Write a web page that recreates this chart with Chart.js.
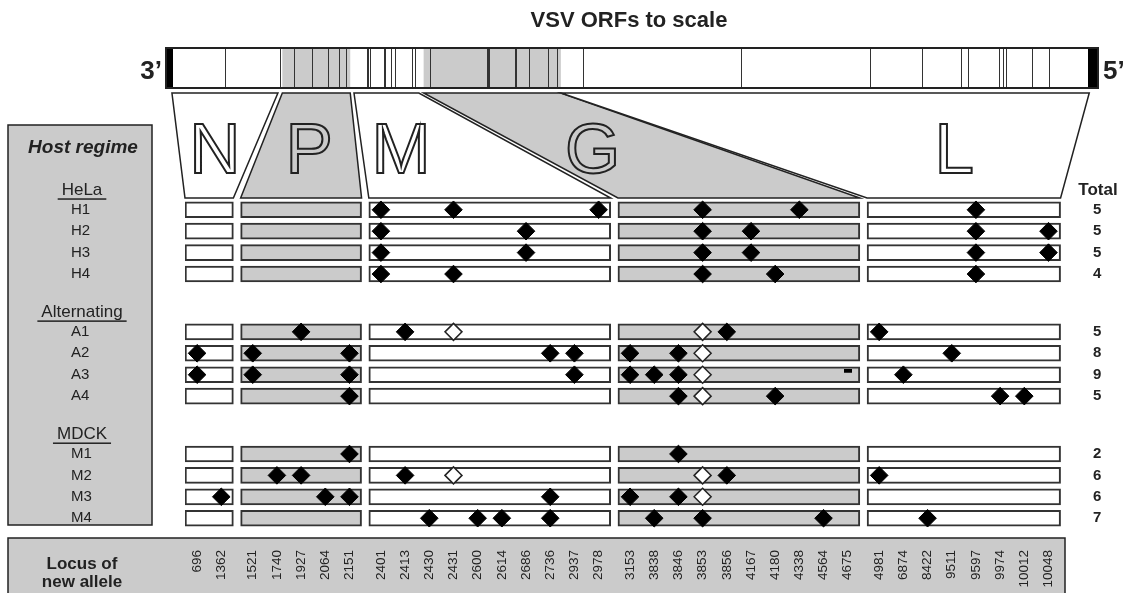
<!DOCTYPE html>
<html>
<head>
<meta charset="utf-8">
<script src="https://cdn.jsdelivr.net/npm/chart.js@4.4.1/dist/chart.umd.min.js"></script>
<style>
  html, body { margin: 0; padding: 0; background: #fff; }
  #wrap { width: 1124px; height: 593px; }
</style>
</head>
<body>
<div id="wrap"><canvas id="chart" width="1124" height="593"></canvas></div>
<script>
// loci of new alleles (genome position), in gene order
const loci = [696, 1362, 1521, 1740, 1927, 2064, 2151, 2401, 2413, 2430, 2431, 2600, 2614, 2686, 2736, 2937, 2978,
  3153, 3838, 3846, 3853, 3856, 4167, 4180, 4338, 4564, 4675, 4981, 6874, 8422, 9511, 9597, 9974, 10012, 10048];
const genes = ['N', 'P', 'M', 'G', 'L'];
const geneLociCount = [2, 5, 10, 10, 8];
const geneStart = [64, 1386, 2244, 3078, 4723];
const geneEnd = [1333, 2199, 3021, 4721, 11049];
const genomeLength = 11161;
const otherSites = [9052, 10362, 10564];

const groups = ['HeLa', 'Alternating', 'MDCK'];
const lines = ['H1', 'H2', 'H3', 'H4', 'A1', 'A2', 'A3', 'A4', 'M1', 'M2', 'M3', 'M4'];
const totals = [5, 5, 5, 4, 5, 8, 9, 5, 2, 6, 6, 7];

const filledSites = [
  [2401, 2431, 2978, 3853, 4338, 9597],
  [2401, 2686, 3853, 4167, 9597, 10048],
  [2401, 2686, 3853, 4167, 9597, 10048],
  [2401, 2431, 3853, 4180, 9597],
  [1927, 2413, 3856, 4981],
  [696, 1521, 2151, 2736, 2937, 3153, 3846, 9511],
  [696, 1521, 2151, 2937, 3153, 3838, 3846, 6874],
  [2151, 3846, 4180, 9974, 10012],
  [2151, 3846],
  [1740, 1927, 2413, 3856, 4981],
  [1362, 2064, 2151, 2736, 3153, 3846],
  [2430, 2600, 2614, 2736, 3838, 3853, 4564, 8422]
];
const openSites = [[], [], [], [], [2431, 3853], [3853], [3853], [3853], [], [2431, 3853], [3853], []];
const deletionSites = [[], [], [], [], [], [], [4675], [], [], [], [], []];

const GRAY = '#cbcbcb';
const INK = '#222';
const FONT = "'Liberation Sans', Arial, Helvetica, sans-serif";
const GENE_GAP = 0.3;
const GROUP_GAP = 1.7;

const geneOfLocus = geneLociCount.flatMap((n, gi) => Array(n).fill(gi));
const locusX = loci.map((l, i) => i + geneOfLocus[i] * GENE_GAP);
const xOf = s => locusX[loci.indexOf(s)];
const rowY = lines.map((l, r) => r + Math.floor(r / 4) * GROUP_GAP);
const geneCols = gi => locusX.filter((v, i) => geneOfLocus[i] === gi);
const boxStart = genes.map((g, gi) => Math.min(...geneCols(gi)) - 0.5);
const boxEnd = genes.map((g, gi) => Math.max(...geneCols(gi)) + 0.5);
const points = sites => sites.flatMap((list, r) => list.map(s => ({x: xOf(s), y: rowY[r]})));

// small deletion mark, sits a little above the row centre
const dash = document.createElement('canvas');
dash.width = 8; dash.height = 12;
dash.getContext('2d').fillRect(0, 0, 8, 4);

const letterAt = [0.74, 4.63, 8.43, 16.35, 31.3];

const decor = {
  id: 'decor',
  beforeDraw(chart) {
    const {ctx, chartArea: area, scales: {x, y}} = chart;
    ctx.save();
    ctx.fillStyle = '#fff';
    ctx.fillRect(0, 0, chart.width, chart.height);

    // panels
    ctx.fillStyle = GRAY; ctx.strokeStyle = INK; ctx.lineWidth = 1.5;
    ctx.fillRect(8, 125, 144, 400); ctx.strokeRect(8, 125, 144, 400);
    ctx.fillRect(8, 538, 1057, 70); ctx.strokeRect(8, 538, 1057, 70);

    ctx.fillStyle = INK;
    ctx.textAlign = 'center'; ctx.textBaseline = 'alphabetic';
    ctx.font = `italic bold 19px ${FONT}`;
    ctx.fillText('Host regime', 83, 153);
    ctx.font = `17px ${FONT}`;
    groups.forEach((g, gi) => {
      const base = y.getPixelForValue(rowY[gi * 4]) - 15;
      ctx.fillText(g, 82, base);
      const w = ctx.measureText(g).width + 8;
      ctx.fillRect(82 - w / 2, base + 3.5, w, 1.5);
    });
    ctx.font = `bold 17px ${FONT}`;
    ctx.fillText('Total', 1098, y.getPixelForValue(rowY[0]) - 15);
    ctx.fillText('Locus of', 82, 569);
    ctx.fillText('new allele', 82, 587);

    ctx.font = `bold 22px ${FONT}`;
    ctx.fillText('VSV ORFs to scale', 629, 27);
    ctx.font = `bold 26px ${FONT}`;
    ctx.textAlign = 'right'; ctx.fillText('3\u2019', 162, 79);
    ctx.textAlign = 'left'; ctx.fillText('5\u2019', 1103, 79);

    // genome bar
    const bx0 = 166, bx1 = 1098, by0 = 48, by1 = 88;
    const gx = p => bx0 + 0.6 + p * (bx1 - bx0) / genomeLength;
    ctx.fillStyle = '#fff'; ctx.fillRect(bx0, by0, bx1 - bx0, by1 - by0);
    ctx.fillStyle = GRAY;
    genes.forEach((g, gi) => {
      if (gi % 2) ctx.fillRect(gx(geneStart[gi]), by0, gx(geneEnd[gi]) - gx(geneStart[gi]), by1 - by0);
    });
    ctx.strokeStyle = '#333'; ctx.lineWidth = 1;
    loci.concat(otherSites).forEach(p => {
      const px = Math.round(gx(p)) + 0.5;
      ctx.beginPath(); ctx.moveTo(px, by0); ctx.lineTo(px, by1); ctx.stroke();
    });
    ctx.fillStyle = '#000';
    ctx.fillRect(bx0, by0, 7, by1 - by0);
    ctx.fillRect(bx1 - 10, by0, 10, by1 - by0);
    ctx.strokeStyle = INK; ctx.lineWidth = 2;
    ctx.strokeRect(bx0, by0, bx1 - bx0, by1 - by0);

    // zoom trapezoids from genome bar to gene boxes
    const ty0 = 93, ty1 = area.top;
    genes.forEach((g, gi) => {
      ctx.beginPath();
      ctx.moveTo(gx(geneStart[gi]), ty0);
      ctx.lineTo(gx(geneEnd[gi]), ty0);
      ctx.lineTo(x.getPixelForValue(boxEnd[gi]), ty1);
      ctx.lineTo(x.getPixelForValue(boxStart[gi]), ty1);
      ctx.closePath();
      ctx.fillStyle = gi % 2 ? GRAY : '#fff';
      ctx.fill();
      ctx.strokeStyle = INK; ctx.lineWidth = 1.5;
      ctx.stroke();
      ctx.font = `71px ${FONT}`;
      ctx.textAlign = 'center';
      ctx.lineWidth = 2;
      ctx.strokeText(g, x.getPixelForValue(letterAt[gi]), 173);
    });
    ctx.restore();
  }
};

Chart.defaults.font.family = FONT;
Chart.defaults.color = INK;

const geneBars = genes.map((g, gi) => ({
  type: 'bar',
  indexAxis: 'y',
  grouped: false,
  barThickness: 16,
  data: rowY.map(v => ({x: [boxStart[gi], boxEnd[gi]], y: v})),
  backgroundColor: gi % 2 ? GRAY : '#fff',
  borderColor: '#333',
  borderWidth: 2,
  borderSkipped: false,
  xAxisID: 'x', yAxisID: 'y',
  order: 2
}));

new Chart(document.getElementById('chart'), {
  type: 'scatter',
  data: {
    datasets: [
      ...geneBars,
      {
        type: 'scatter', data: points(filledSites), pointStyle: 'rectRot', pointRadius: 8.8,
        backgroundColor: '#000', borderColor: '#000', borderWidth: 1, clip: false,
        xAxisID: 'x', yAxisID: 'y', order: 0
      },
      {
        type: 'scatter', data: points(openSites), pointStyle: 'rectRot', pointRadius: 8.5,
        backgroundColor: '#fff', borderColor: '#222', borderWidth: 1.5, clip: false,
        xAxisID: 'x', yAxisID: 'y', order: 0
      },
      {
        type: 'scatter', data: points(deletionSites), pointStyle: dash, pointRadius: 4, clip: false,
        xAxisID: 'x', yAxisID: 'y', order: 0
      }
    ]
  },
  options: {
    responsive: false,
    animation: false,
    devicePixelRatio: 1,
    events: [],
    layout: { padding: { top: 198, left: 71, right: 0, bottom: 0 } },
    plugins: { legend: { display: false }, tooltip: { enabled: false } },
    scales: {
      x: {
        type: 'linear', position: 'bottom', min: -0.5, max: 35.8, offset: false, beginAtZero: false,
        grid: { display: false, drawTicks: false }, border: { display: false },
        afterBuildTicks: s => { s.ticks = locusX.map(v => ({value: v})); },
        afterFit: s => { s.height = 63; },
        ticks: {
          autoSkip: false, maxRotation: 90, minRotation: 90, padding: 20,
          font: { size: 13.5 }, color: INK,
          callback: (v, i) => String(loci[i])
        }
      },
      y: {
        type: 'linear', position: 'left', reverse: true, min: -0.55, max: 14.95, offset: false,
        grid: { display: false, drawTicks: false }, border: { display: false },
        afterBuildTicks: s => { s.ticks = rowY.map(v => ({value: v})); },
        afterFit: s => { s.width = 114; },
        ticks: {
          autoSkip: false, crossAlign: 'far', font: { size: 15 }, color: INK,
          callback: (v, i) => lines[i]
        }
      },
      y2: {
        type: 'linear', position: 'right', reverse: true, min: -0.55, max: 14.95, offset: false,
        grid: { display: false, drawTicks: false }, border: { display: false },
        afterBuildTicks: s => { s.ticks = rowY.map(v => ({value: v})); },
        afterFit: s => { s.width = 61; },
        ticks: {
          autoSkip: false, crossAlign: 'near', padding: 30,
          font: { size: 15, weight: 'bold' }, color: INK,
          callback: (v, i) => String(totals[i])
        }
      }
    }
  },
  plugins: [decor]
});
</script>
</body>
</html>
